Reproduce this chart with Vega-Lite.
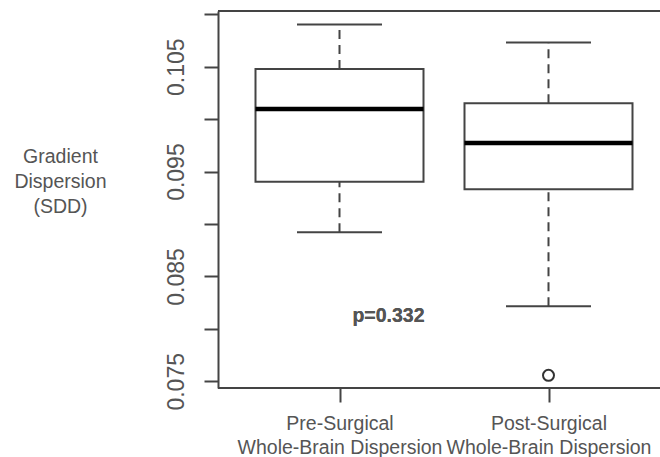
{
  "$schema": "https://vega.github.io/schema/vega-lite/v6.json",
  "autosize": {"type": "none"},
  "width": 442,
  "height": 377,
  "padding": {"left": 218, "top": 11, "right": 0, "bottom": 69},
  "config": {
    "font": "Liberation Sans",
    "view": {"stroke": null},
    "axis": {"grid": false}
  },
  "data": {
    "values": [
      {"group": "Pre-Surgical Whole-Brain Dispersion", "lower": 0.08921, "q1": 0.09404, "median": 0.10097, "q3": 0.10478, "upper": 0.10902, "outlier": null},
      {"group": "Post-Surgical Whole-Brain Dispersion", "lower": 0.08215, "q1": 0.09331, "median": 0.09773, "q3": 0.10151, "upper": 0.1073, "outlier": 0.07557}
    ]
  },
  "encoding": {
    "x": {
      "field": "group",
      "type": "nominal",
      "sort": null,
      "scale": {"type": "point", "range": [121.5, 330.5], "padding": 0},
      "axis": {
        "title": null,
        "domain": false,
        "ticks": true,
        "tickColor": "#444",
        "tickWidth": 2,
        "tickSize": 14,
        "labelAngle": 0,
        "labelFontSize": 19.5,
        "labelColor": "#555",
        "labelPadding": 12,
        "labelLineHeight": 24,
        "labelBaseline": "top",
        "labelAlign": "center",
        "labelLimit": 0,
        "labelOverlap": false,
        "labelExpr": "[slice(datum.label, 0, indexof(datum.label, ' ')), slice(datum.label, indexof(datum.label, ' ') + 1)]"
      }
    }
  },
  "layer": [
    {
      "mark": {"type": "rule", "color": "#444", "strokeWidth": 2},
      "encoding": {"x": null, "y": {"datum": 0.110315, "type": "quantitative"}}
    },
    {
      "mark": {"type": "rule", "color": "#444", "strokeWidth": 2},
      "encoding": {"x": null, "y": {"datum": 0.074361, "type": "quantitative"}}
    },
    {
      "mark": {"type": "rule", "color": "#444", "strokeWidth": 2, "strokeDash": [9, 6]},
      "encoding": {
        "y": {
          "field": "q3",
          "type": "quantitative",
          "scale": {"domain": [0.074361, 0.110315], "nice": false, "zero": false},
          "axis": {
            "title": ["Gradient", "Dispersion", "(SDD)"],
            "titleAngle": 0,
            "titleX": -158,
            "titleY": 151.5,
            "titleAlign": "center",
            "titleBaseline": "alphabetic",
            "titleFontSize": 19.5,
            "titleFontWeight": "normal",
            "titleColor": "#555",
            "titleLineHeight": 25,
            "values": [0.075, 0.08, 0.085, 0.09, 0.095, 0.1, 0.105, 0.11],
            "format": ".3f",
            "labelExpr": "(round(datum.value * 1000) % 10 == 5) ? datum.label : ''",
            "labelAngle": 270,
            "labelAlign": "center",
            "labelBaseline": "alphabetic",
            "labelPadding": 21,
            "labelFontSize": 23,
            "labelColor": "#555",
            "labelFlush": false,
            "labelOverlap": false,
            "domain": true,
            "domainColor": "#444",
            "domainWidth": 2,
            "tickColor": "#444",
            "tickWidth": 2,
            "tickSize": 14
          }
        },
        "y2": {"field": "upper"}
      }
    },
    {
      "mark": {"type": "rule", "color": "#444", "strokeWidth": 2, "strokeDash": [9, 6]},
      "encoding": {
        "y": {"field": "lower", "type": "quantitative"},
        "y2": {"field": "q1"}
      }
    },
    {
      "mark": {"type": "tick", "color": "#444", "size": 85, "thickness": 2, "opacity": 1},
      "encoding": {"y": {"field": "upper", "type": "quantitative"}}
    },
    {
      "mark": {"type": "tick", "color": "#444", "size": 85, "thickness": 2, "opacity": 1},
      "encoding": {"y": {"field": "lower", "type": "quantitative"}}
    },
    {
      "mark": {"type": "bar", "size": 168, "fill": "white", "stroke": "#444", "strokeWidth": 2},
      "encoding": {
        "y": {"field": "q1", "type": "quantitative"},
        "y2": {"field": "q3"}
      }
    },
    {
      "mark": {"type": "tick", "color": "#000", "size": 168, "thickness": 4.5, "opacity": 1},
      "encoding": {"y": {"field": "median", "type": "quantitative"}}
    },
    {
      "mark": {"type": "point", "shape": "circle", "filled": false, "size": 121, "stroke": "#333", "strokeWidth": 2, "opacity": 1},
      "encoding": {"y": {"field": "outlier", "type": "quantitative"}}
    },
    {
      "mark": {"type": "text", "text": "p=0.332", "fontSize": 19.5, "fontWeight": "bold", "color": "#555", "baseline": "alphabetic", "align": "center", "dx": 49},
      "encoding": {
        "x": {"datum": "Pre-Surgical Whole-Brain Dispersion", "type": "nominal"},
        "y": {"datum": 0.0807, "type": "quantitative"}
      }
    }
  ]
}
